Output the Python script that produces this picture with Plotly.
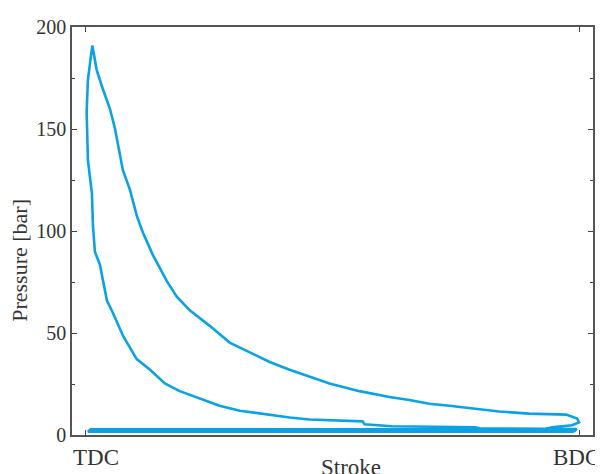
import plotly.graph_objects as go

# Stroke as fraction of travel (0 = TDC, 1 = BDC), pressure in bar
stroke_compression = [0.990, 0.995, 0.80, 0.79, 0.62, 0.565, 0.561, 0.514, 0.453, 0.413,
                      0.352, 0.312, 0.271, 0.231, 0.190, 0.160, 0.130, 0.103, 0.075, 0.055,
                      0.0425, 0.0283, 0.0182, 0.0142, 0.0121, 0.0040, 0.0014, 0.0014, 0.0040, 0.0121]
pressure_compression = [1.6, 2.9, 3.2, 3.8, 4.3, 5.3, 6.7, 7.2, 7.6, 8.6,
                        10.5, 11.9, 14.3, 17.7, 21.5, 25.3, 32.0, 37.2, 48.7, 59.7,
                        65.9, 83.5, 89.7, 102.6, 118.4, 134.6, 155.1, 158.5, 174.2, 188.5]

stroke_expansion = [0.0128, 0.0148, 0.0217, 0.0344, 0.0486, 0.0587, 0.0648, 0.0749, 0.0891,
                    0.1032, 0.1154, 0.1356, 0.1640, 0.1842, 0.2105, 0.2510, 0.2915, 0.3320,
                    0.3725, 0.4130, 0.4534, 0.4939, 0.5547, 0.6154, 0.6559, 0.6964, 0.7368,
                    0.7976, 0.8381, 0.8988, 0.9737, 0.9960, 1.0, 0.9858, 0.9453]
pressure_expansion = [190.9, 188.5, 179.0, 169.5, 159.9, 150.4, 142.2, 129.8, 120.3,
                      107.4, 99.3, 88.3, 75.4, 67.8, 61.1, 53.5, 45.3, 40.6,
                      35.8, 32.0, 28.6, 25.3, 21.5, 18.6, 17.2, 15.3, 14.3,
                      12.4, 11.5, 10.5, 10.0, 8.1, 6.2, 4.8, 3.8]

stroke_exhaust = [0.93, 0.01]
pressure_exhaust = [2.8, 2.8]

stroke_intake = [0.004, 0.990]
pressure_intake = [1.6, 1.6]

x_tick_vals = [0, 1]
x_tick_text = ["TDC", "BDC"]
y_tick_vals = [0, 50, 100, 150, 200]

x = stroke_compression + stroke_expansion + stroke_exhaust + stroke_intake
y = pressure_compression + pressure_expansion + pressure_exhaust + pressure_intake

line_color = "rgb(10,162,228)"
text_color = "#333333"
font_family = "Liberation Serif, Times New Roman, serif"

fig = go.Figure()
fig.add_trace(go.Scatter(x=x, y=y, mode="lines",
                         line=dict(color=line_color, width=2.6),
                         showlegend=False, hoverinfo="skip"))

fig.update_layout(
    width=595, height=466,
    margin=dict(l=64, r=9, t=8, b=39),
    paper_bgcolor="white", plot_bgcolor="white",
    font=dict(family=font_family, color=text_color),
    xaxis=dict(range=[-0.0283, 1.0283], tickvals=x_tick_vals, showticklabels=False,
               ticks="inside", ticklen=5, tickcolor="#444", tickwidth=1,
               showline=True, linecolor="#555", linewidth=1.5, mirror="ticks",
               showgrid=False, zeroline=False),
    yaxis=dict(range=[0, 200], tickvals=y_tick_vals, ticks="inside", ticklen=5,
               tickcolor="#444", tickwidth=1, ticklabelstandoff=0,
               ticklabeloverflow="allow",
               tickfont=dict(size=20, family=font_family, color=text_color),
               showline=True, linecolor="#555", linewidth=1.5, mirror="ticks",
               showgrid=False, zeroline=False,
               minor=dict(dtick=25, ticks="inside", ticklen=3, tickcolor="#444")),
)

fig.add_annotation(x=x_tick_vals[0], y=0, xref="x", yref="paper", text=x_tick_text[0],
                   showarrow=False, xanchor="left", yanchor="top", xshift=-15, yshift=-8,
                   font=dict(size=23, family=font_family, color=text_color))
fig.add_annotation(x=x_tick_vals[1], y=0, xref="x", yref="paper", text=x_tick_text[1],
                   showarrow=False, xanchor="center", yanchor="top", xshift=-3, yshift=-8,
                   font=dict(size=23, family=font_family, color=text_color))
fig.add_annotation(x=(352 - 72) / 522, y=0, xref="paper", yref="paper", text="Stroke",
                   showarrow=False, xanchor="center", yanchor="top", yshift=-18,
                   font=dict(size=23, family=font_family, color=text_color))
fig.add_annotation(x=(20 - 72) / 522, y=(435 - 256) / 419, xref="paper", yref="paper",
                   text="Pressure [bar]", textangle=-90, showarrow=False,
                   xanchor="center", yanchor="middle",
                   font=dict(size=22, family=font_family, color=text_color))

fig.write_html("out.html")
